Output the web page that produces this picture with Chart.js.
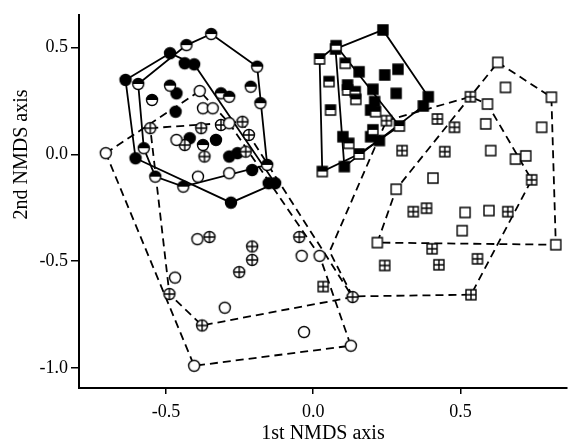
<!DOCTYPE html>
<html>
<head>
<meta charset="utf-8">
<script src="https://cdn.jsdelivr.net/npm/chart.js@4.4.1/dist/chart.umd.min.js"></script>
<style>
    html, body { margin: 0; padding: 0; background: #fff; }
    #chart { display: block; }
</style>
</head>
<body>
<canvas id="chart" width="574" height="444"></canvas>
<script>
// NMDS ordination plot: 8 groups of sites, each with its hull outline

const xTicks = [-0.5, 0.0, 0.5];
const yTicks = [-1.0, -0.5, 0.0, 0.5];

// Points, as [NMDS1, NMDS2]
const filledCircles = [[-0.637, 0.349], [-0.486, 0.474], [-0.436, 0.427], [-0.404, 0.422], [-0.464, 0.286],
    [-0.467, 0.200], [-0.419, 0.076], [-0.330, 0.068], [-0.285, -0.010], [-0.257, 0.006], [-0.207, -0.073],
    [-0.151, -0.135], [-0.129, -0.135], [-0.279, -0.226], [-0.603, -0.018]];
const halfCircles = [[-0.346, 0.564], [-0.430, 0.512], [-0.594, 0.330], [-0.486, 0.322], [-0.547, 0.255],
    [-0.313, 0.286], [-0.285, 0.270], [-0.212, 0.317], [-0.190, 0.411], [-0.179, 0.240], [-0.374, 0.044],
    [-0.575, 0.029], [-0.536, -0.104], [-0.441, -0.151], [-0.156, -0.049]];
const openCircles = [[-0.704, 0.006], [-0.385, 0.297], [-0.374, 0.216], [-0.341, 0.216], [-0.285, 0.146],
    [-0.464, 0.068], [-0.391, -0.104], [-0.285, -0.088], [-0.393, -0.397], [-0.469, -0.577], [-0.300, -0.718],
    [-0.039, -0.475], [0.022, -0.475], [-0.031, -0.832], [0.128, -0.896], [-0.404, -0.990]];
const crossCircles = [[-0.553, 0.123], [-0.380, 0.123], [-0.313, 0.138], [-0.240, 0.153], [-0.218, 0.091],
    [-0.436, 0.044], [-0.369, -0.010], [-0.229, 0.013], [-0.352, -0.387], [-0.488, -0.654], [-0.377, -0.801],
    [-0.251, -0.551], [-0.047, -0.387], [-0.207, -0.431], [-0.207, -0.494], [0.134, -0.668]];
const filledSquares = [[0.076, 0.494], [0.237, 0.583], [0.156, 0.387], [0.243, 0.372], [0.288, 0.399],
    [0.117, 0.325], [0.203, 0.305], [0.282, 0.286], [0.209, 0.247], [0.195, 0.208], [0.391, 0.270],
    [0.374, 0.227], [0.101, 0.083], [0.195, 0.083], [0.225, 0.065], [0.106, -0.057]];
const halfSquares = [[0.022, 0.447], [0.078, 0.509], [0.109, 0.427], [0.054, 0.341], [0.117, 0.302],
    [0.143, 0.294], [0.145, 0.258], [0.059, 0.208], [0.212, 0.200], [0.203, 0.115], [0.121, 0.052],
    [0.156, 0.002], [0.293, 0.133], [0.031, -0.080]];
const openSquares = [[0.627, 0.431], [0.653, 0.314], [0.809, 0.268], [0.592, 0.236], [0.586, 0.143],
    [0.776, 0.127], [0.603, 0.018], [0.687, -0.022], [0.722, -0.007], [0.407, -0.111], [0.282, -0.163],
    [0.516, -0.272], [0.597, -0.263], [0.506, -0.357], [0.218, -0.413], [0.824, -0.423]];
const crossSquares = [[0.249, 0.158], [0.422, 0.166], [0.480, 0.127], [0.534, 0.270], [0.302, 0.018],
    [0.447, 0.013], [0.340, -0.268], [0.385, -0.252], [0.661, -0.268], [0.404, -0.442], [0.243, -0.520],
    [0.427, -0.517], [0.558, -0.489], [0.536, -0.657], [0.742, -0.119], [0.034, -0.619]];

// Hull outlines (vertices in order)
const filledCircleHull = [[-0.637, 0.349], [-0.486, 0.474], [-0.404, 0.422], [-0.129, -0.135], [-0.279, -0.226], [-0.603, -0.018]];
const halfCircleHull = [[-0.594, 0.330], [-0.430, 0.512], [-0.346, 0.564], [-0.190, 0.411], [-0.156, -0.049],
    [-0.441, -0.151], [-0.536, -0.104], [-0.575, 0.029]];
const openCircleHull = [[-0.704, 0.006], [-0.385, 0.297], [-0.285, 0.146], [0.022, -0.475], [0.128, -0.896], [-0.404, -0.990]];
const crossCircleHull = [[-0.553, 0.123], [-0.240, 0.153], [-0.218, 0.091], [0.134, -0.668], [-0.377, -0.801], [-0.488, -0.654]];
const filledSquareHull = [[0.076, 0.494], [0.237, 0.583], [0.391, 0.270], [0.374, 0.227], [0.106, -0.057]];
const halfSquareHull = [[0.022, 0.447], [0.078, 0.509], [0.293, 0.133], [0.156, 0.002], [0.031, -0.080]];
const openSquareHull = [[0.627, 0.431], [0.809, 0.268], [0.824, -0.423], [0.218, -0.413], [0.282, -0.163]];
const crossSquareHull = [[0.249, 0.158], [0.534, 0.270], [0.592, 0.236], [0.742, -0.119], [0.536, -0.657],
    [0.134, -0.665], [0.056, -0.455]];

const FONT = '"Liberation Serif", "Times New Roman", serif';

// Build a marker image: circle/square, filled/half/open/cross
function makeMarker(shape, fill) {
    const size = 16;
    const c = document.createElement('canvas');
    c.width = size;
    c.height = size;
    const g = c.getContext('2d');
    const m = size / 2;
    const r = shape === 'circle' ? 5.5 : 5;
    g.lineWidth = 1.4;
    g.strokeStyle = '#000';
    g.fillStyle = '#fff';
    g.beginPath();
    if (shape === 'circle') g.arc(m, m, r, 0, Math.PI * 2);
    else g.rect(m - r, m - r, 2 * r, 2 * r);
    g.fill();
    g.fillStyle = '#000';
    if (fill === 'full') g.fill();
    if (fill === 'half') {
        g.save();
        g.clip();
        g.fillRect(0, 0, size, m);
        g.restore();
    }
    g.stroke();
    if (fill === 'cross') {
        g.beginPath();
        g.moveTo(m - r, m); g.lineTo(m + r, m);
        g.moveTo(m, m - r); g.lineTo(m, m + r);
        g.stroke();
    }
    return c;
}

const toXY = arr => arr.map(p => ({ x: p[0], y: p[1] }));

function pointSet(arr, shape, fill) {
    return {
        data: toXY(arr),
        pointStyle: makeMarker(shape, fill),
        pointRadius: 6,
        showLine: false,
        order: 1
    };
}

function hullSet(arr, dashed) {
    return {
        data: toXY(arr.concat([arr[0]])),
        showLine: true,
        borderColor: '#000',
        borderWidth: 1.8,
        borderDash: dashed ? [8, 5] : [],
        pointRadius: 0,
        tension: 0,
        fill: false,
        order: 2
    };
}

// y axis title is centred on the 0.0 tick in the original
const yTitlePlugin = {
    id: 'yTitle',
    afterDraw(chart) {
        const ctx = chart.ctx;
        const y = chart.scales.y.getPixelForValue(0);
        ctx.save();
        ctx.translate(22, y);
        ctx.rotate(-Math.PI / 2);
        ctx.font = '20px ' + FONT;
        ctx.fillStyle = '#000';
        ctx.textAlign = 'center';
        ctx.textBaseline = 'middle';
        ctx.fillText('2nd NMDS axis', 0, 0);
        ctx.restore();
    }
};

new Chart(document.getElementById('chart'), {
    type: 'scatter',
    data: {
        datasets: [
            pointSet(openCircles, 'circle', 'open'),
            pointSet(crossCircles, 'circle', 'cross'),
            pointSet(halfCircles, 'circle', 'half'),
            pointSet(filledCircles, 'circle', 'full'),
            pointSet(openSquares, 'square', 'open'),
            pointSet(crossSquares, 'square', 'cross'),
            pointSet(halfSquares, 'square', 'half'),
            pointSet(filledSquares, 'square', 'full'),
            hullSet(filledCircleHull, false),
            hullSet(halfCircleHull, false),
            hullSet(openCircleHull, true),
            hullSet(crossCircleHull, true),
            hullSet(filledSquareHull, false),
            hullSet(halfSquareHull, false),
            hullSet(openSquareHull, true),
            hullSet(crossSquareHull, true)
        ]
    },
    options: {
        responsive: false,
        animation: false,
        layout: { padding: { top: 15, right: 0, left: 0, bottom: 0 } },
        plugins: {
            legend: { display: false },
            tooltip: { enabled: false }
        },
        scales: {
            x: {
                type: 'linear',
                min: -0.795,
                max: 0.862,
                afterBuildTicks: s => { s.ticks = xTicks.map(v => ({ value: v })); },
                afterFit: s => { s.height = 56; },
                ticks: {
                    callback: v => Number(v).toFixed(1),
                    color: '#000',
                    font: { family: FONT, size: 18 },
                    padding: 7,
                    maxRotation: 0,
                    autoSkip: false
                },
                grid: { drawOnChartArea: false, drawTicks: true, tickLength: 6, color: '#000', lineWidth: 1.5 },
                border: { color: '#000', width: 2 },
                title: {
                    display: true,
                    text: '1st NMDS axis',
                    color: '#000',
                    font: { family: FONT, size: 20, lineHeight: 1 },
                    padding: 0
                }
            },
            y: {
                type: 'linear',
                min: -1.094,
                max: 0.653,
                afterBuildTicks: s => { s.ticks = yTicks.map(v => ({ value: v })); },
                afterFit: s => { s.width = 79; },
                ticks: {
                    callback: v => Number(v).toFixed(1),
                    color: '#000',
                    font: { family: FONT, size: 18 },
                    padding: 3,
                    autoSkip: false
                },
                grid: { drawOnChartArea: false, drawTicks: true, tickLength: 8, color: '#000', lineWidth: 1.5 },
                border: { color: '#000', width: 2 }
            }
        }
    },
    plugins: [yTitlePlugin]
});
</script>
</body>
</html>
